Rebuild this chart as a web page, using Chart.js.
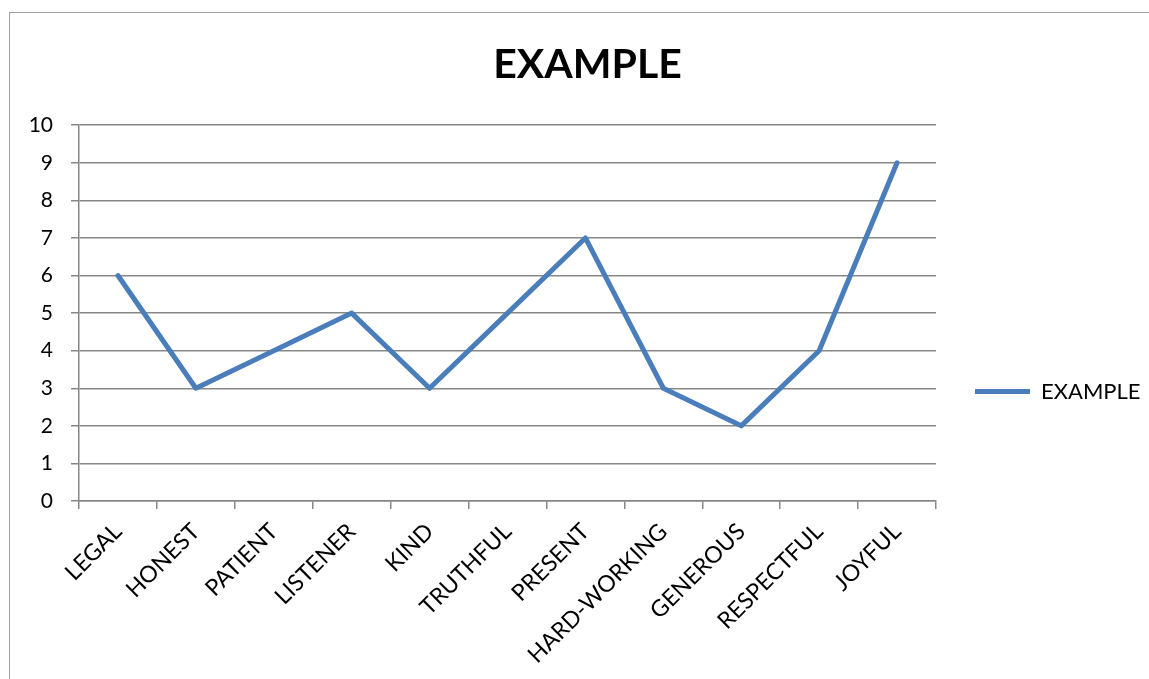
<!DOCTYPE html>
<html>
<head>
<meta charset="utf-8">
<title>EXAMPLE</title>
<script src="https://cdn.jsdelivr.net/npm/chart.js@4.4.1/dist/chart.umd.min.js"></script>
<style>
  html, body { margin: 0; padding: 0; background: #fff; overflow: hidden; }
  #frame {
    position: absolute; left: 9px; top: 12px; width: 1300px; height: 800px;
    border-left: 1.5px solid #a0a0a0; border-top: 1.5px solid #a0a0a0;
  }
  #chart { position: absolute; left: 0; top: 0; }
</style>
</head>
<body>
<div id="frame"></div>
<canvas id="chart" width="1149" height="679"></canvas>
<script>
// ── data ──
const categories = ['LEGAL', 'HONEST', 'PATIENT', 'LISTENER', 'KIND', 'TRUTHFUL',
  'PRESENT', 'HARD-WORKING', 'GENEROUS', 'RESPECTFUL', 'JOYFUL'];
const exampleValues = [6, 3, 4, 5, 3, 5, 7, 3, 2, 4, 9];
const seriesName = 'EXAMPLE';
const chartTitle = 'EXAMPLE';
const yTicks = [0, 1, 2, 3, 4, 5, 6, 7, 8, 9, 10];

const GRID = '#878787';
const BLUE = '#4A7EBB';

Chart.defaults.font.family = 'Lato';
Chart.defaults.color = '#000';

// legend gets a fixed width, then legend + title nudged into place
const placeBoxes = {
  id: 'placeBoxes',
  afterInit(chart) {
    const lg = chart.legend;
    const fit = lg.fit.bind(lg);
    lg.fit = () => { fit(); lg.width = 213; };
  },
  afterLayout(chart) {
    chart.legend.top += 52;
    chart.legend.bottom += 52;
    chart.titleBlock.left += 13;
    chart.titleBlock.right += 13;
  }
};

new Chart(document.getElementById('chart'), {
  type: 'line',
  data: {
    labels: categories,
    datasets: [{
      label: seriesName,
      data: exampleValues,
      borderColor: BLUE,
      backgroundColor: BLUE,
      borderWidth: 5,
      borderJoinStyle: 'round',
      borderCapStyle: 'round',
      pointRadius: 0,
      pointHoverRadius: 0,
      tension: 0,
      clip: false
    }]
  },
  options: {
    responsive: false,
    animation: false,
    layout: { padding: 0 },
    plugins: {
      title: {
        display: true,
        text: chartTitle,
        color: '#000',
        font: { size: 41, weight: 'bold' },
        padding: { top: 40, bottom: 36 }
      },
      legend: {
        position: 'right',
        labels: {
          usePointStyle: true,
          pointStyle: 'line',
          pointStyleWidth: 55,
          padding: 39,
          color: '#000',
          font: { size: 22 }
        }
      },
      tooltip: { enabled: false }
    },
    scales: {
      x: {
        offset: true,
        grid: { offset: true, drawOnChartArea: false, color: GRID, lineWidth: 1.5, tickLength: 8 },
        border: { color: GRID, width: 1.5 },
        ticks: { autoSkip: false, maxRotation: 45, minRotation: 45, padding: 9, font: { size: 23 } },
        afterFit: s => { s.height = 178; }
      },
      y: {
        min: 0, max: 10,
        afterBuildTicks: s => { s.ticks = yTicks.map(v => ({ value: v })); },
        grid: { color: GRID, lineWidth: 1.5, tickLength: 8 },
        border: { color: GRID, width: 1.5 },
        ticks: { padding: 18, font: { size: 21 } },
        afterFit: s => { s.width = 79; }
      }
    }
  },
  plugins: [placeBoxes]
});
</script>
</body>
</html>
